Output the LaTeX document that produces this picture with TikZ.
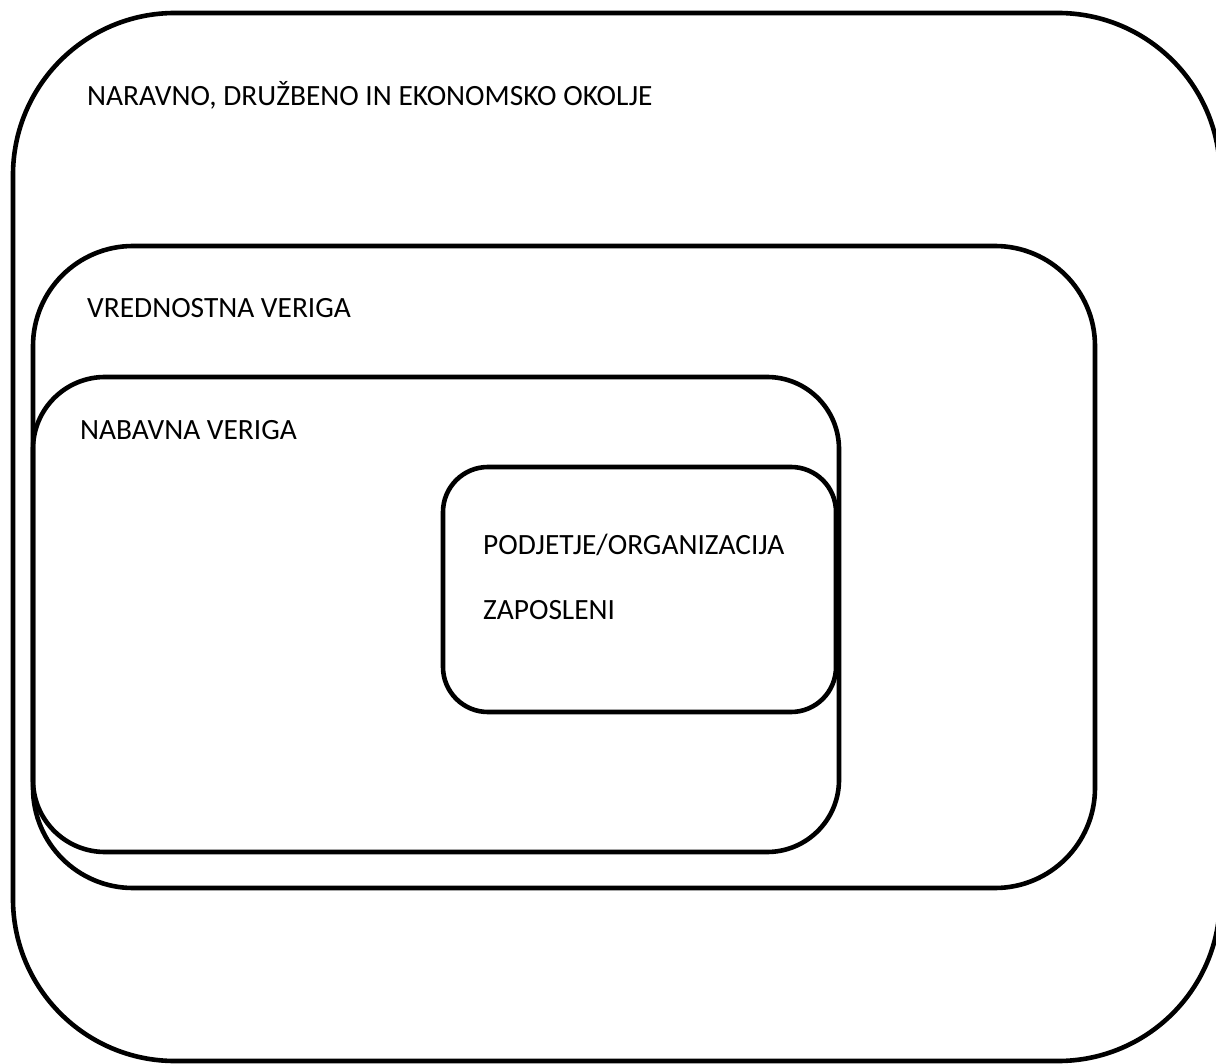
\documentclass[tikz,border=0pt]{standalone}
\usepackage{fontspec}
\setmainfont{Carlito}
\begin{document}
\begin{tikzpicture}[x=1pt,y=-1pt,
  box/.style={draw=black, line width=4.6pt, inner sep=0pt, outer sep=0pt, rectangle},
  lbl/.style={anchor=base west, inner sep=0pt, font=\fontsize{29.4}{35}\selectfont}]
\useasboundingbox[fill=white] (0,0) rectangle (1216,1064);
\node[box, rounded corners=162pt, minimum width=1207pt, minimum height=1048pt] (outer) at (616.5,537) {};
\node[box, rounded corners=100pt, minimum width=1062pt, minimum height=642pt] (vred) at (564,567) {};
\node[box, rounded corners=72pt, minimum width=806pt, minimum height=475pt] (nab) at (436,614.5) {};
\node[box, rounded corners=45pt, minimum width=393pt, minimum height=245pt] (podj) at (639.5,589.5) {};
\node[lbl] (t1) at (87,106) {NARAVNO, DRUŽBENO IN EKONOMSKO OKOLJE};
\node[lbl] (t2) at (87,318) {VREDNOSTNA VERIGA};
\node[lbl] (t3) at (80,440) {NABAVNA VERIGA};
\node[lbl] (t4) at (483,554) {PODJETJE/ORGANIZACIJA};
\node[lbl] (t5) at (483,619) {ZAPOSLENI};
\end{tikzpicture}
\end{document}
